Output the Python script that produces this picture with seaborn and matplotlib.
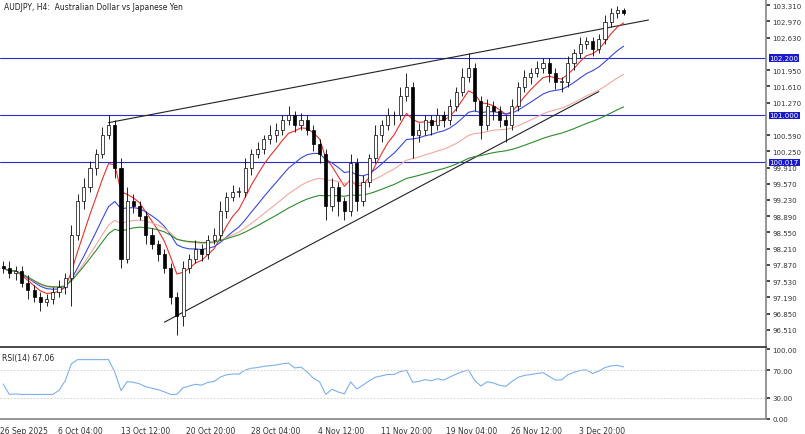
import numpy as np
import pandas as pd
import matplotlib
matplotlib.use("Agg")
import matplotlib.pyplot as plt
import seaborn as sns

sns.set_theme(style="white")
plt.rcParams['font.family'] = ['DejaVu Sans']

# H4 closes (one value per candle, resampled)
closes = [97.8, 97.7, 97.75, 97.5, 97.35, 97.2, 97.1, 97.15, 97.3, 97.4,
          97.6, 98.5, 99.2, 99.5, 99.9, 100.2, 100.6, 100.8, 99.9, 98.0,
          99.2, 99.1, 98.9, 98.5, 98.3, 98.1, 97.8, 97.2, 96.8, 97.8,
          98.0, 98.2, 98.1, 98.4, 98.5, 99.0, 99.3, 99.4, 99.4, 99.9,
          100.2, 100.3, 100.5, 100.6, 100.7, 100.9, 101.0, 100.8, 100.9, 100.7,
          100.4, 100.2, 99.1, 99.5, 99.2, 99.0, 100.0, 99.2, 99.6, 100.1,
          100.6, 100.8, 101.0, 101.0, 101.4, 101.6, 100.6, 100.7, 100.9, 100.8,
          101.0, 100.9, 101.2, 101.5, 101.8, 102.0, 101.3, 100.8, 101.2, 101.1,
          100.9, 100.8, 101.2, 101.6, 101.8, 101.9, 102.0, 102.1, 101.9, 101.7,
          101.7, 102.1, 102.3, 102.5, 102.55, 102.4, 102.6, 102.95, 103.15, 103.2,
          103.15]
upper_wick = [0.1, 0.15, 0.1, 0.1, 0.15, 0.1, 0.1, 0.1, 0.1, 0.15,
              0.1, 0.2, 0.15, 0.2, 0.15, 0.1, 0.15, 0.2, 0.1, 0.2,
              0.3, 0.15, 0.1, 0.1, 0.15, 0.1, 0.1, 0.1, 0.1, 0.15,
              0.1, 0.2, 0.1, 0.1, 0.15, 0.2, 0.1, 0.15, 0.1, 0.2,
              0.1, 0.15, 0.1, 0.2, 0.15, 0.1, 0.2, 0.1, 0.15, 0.1,
              0.1, 0.1, 0.1, 0.2, 0.1, 0.1, 0.2, 0.1, 0.15, 0.1,
              0.2, 0.1, 0.15, 0.1, 0.2, 0.3, 0.1, 0.15, 0.1, 0.1,
              0.15, 0.1, 0.15, 0.1, 0.2, 0.3, 0.1, 0.1, 0.15, 0.1,
              0.1, 0.1, 0.15, 0.1, 0.15, 0.1, 0.15, 0.1, 0.1, 0.1,
              0.1, 0.15, 0.1, 0.15, 0.1, 0.1, 0.1, 0.15, 0.1, 0.1,
              0.05]
lower_wick = [0.1, 0.1, 0.15, 0.1, 0.2, 0.1, 0.2, 0.1, 0.1, 0.1,
              0.15, 0.6, 0.1, 0.15, 0.1, 0.15, 0.1, 0.1, 0.2, 0.2,
              0.1, 0.15, 0.1, 0.2, 0.1, 0.15, 0.1, 0.15, 0.4, 0.2,
              0.1, 0.1, 0.15, 0.1, 0.1, 0.1, 0.15, 0.1, 0.1, 0.1,
              0.15, 0.1, 0.1, 0.1, 0.15, 0.1, 0.1, 0.15, 0.1, 0.1,
              0.15, 0.2, 0.3, 0.1, 0.3, 0.2, 0.1, 0.2, 0.1, 0.1,
              0.1, 0.15, 0.1, 0.2, 0.1, 0.1, 0.5, 0.15, 0.1, 0.2,
              0.1, 0.15, 0.1, 0.1, 0.1, 0.1, 0.2, 0.3, 0.1, 0.2,
              0.15, 0.35, 0.1, 0.1, 0.1, 0.15, 0.1, 0.1, 0.2, 0.15,
              0.2, 0.1, 0.15, 0.1, 0.1, 0.15, 0.1, 0.1, 0.1, 0.1,
              0.05]

price_ticks = [103.310, 102.970, 102.630, 101.950, 101.610, 101.270, 100.590, 100.250,
               99.910, 99.570, 99.230, 98.890, 98.550, 98.210, 97.870, 97.530,
               97.190, 96.850, 96.510]
levels = [102.200, 101.000, 100.017]
level_labels = ["102.200", "101.000", "100.017"]
date_labels = ["26 Sep 2025", "6 Oct 04:00", "13 Oct 12:00", "20 Oct 20:00", "28 Oct 04:00",
               "4 Nov 12:00", "11 Nov 20:00", "19 Nov 04:00", "26 Nov 12:00", "3 Dec 20:00"]
date_pos = [3.3, 12.5, 23, 33.5, 44, 54.5, 65, 75.5, 86, 96.5]
# trendlines: (index, price) end points
upper_trend = ([17, 104], [100.85, 103.0])
lower_trend = ([26, 96], [96.67, 101.5])

df = pd.DataFrame({"close": closes})
df["open"] = df["close"].shift(1).fillna(df["close"].iloc[0] + 0.05)
df["high"] = df[["open", "close"]].max(axis=1) + upper_wick
df["low"] = df[["open", "close"]].min(axis=1) - lower_wick
df["idx"] = np.arange(len(df))
ma_specs = [(6, "#e8302c"), (16, "#3b49d8"), (34, "#f2a7a0"), (70, "#2e8b2e")]
for span, _ in ma_specs:
    df[f"ma{span}"] = df["close"].ewm(span=span).mean()
delta = df["close"].diff().fillna(0)
gain = delta.clip(lower=0).ewm(alpha=1 / 10).mean()
loss = (-delta.clip(upper=0)).ewm(alpha=1 / 10).mean()
df["rsi"] = (100 - 100 / (1 + gain / (loss + 1e-6))).clip(35, 85)
df.loc[0, "rsi"] = 50

fig = plt.figure(figsize=(8.05, 4.35), dpi=100)
ax = fig.add_axes([0.0, 0.2, 0.952, 0.8])
ax2 = fig.add_axes([0.0, 0.035, 0.952, 0.16])
xlim = (-0.5, 123.0)

for span, col in ma_specs:
    sns.lineplot(data=df, x="idx", y=f"ma{span}", ax=ax, color=col, lw=0.8, zorder=2)
for _, r in df.iterrows():
    up = r["close"] >= r["open"]
    ax.vlines(r["idx"], r["low"], r["high"], color="black", lw=0.6, zorder=3)
    lo, hi = min(r["open"], r["close"]), max(r["open"], r["close"])
    ax.bar(r["idx"], max(hi - lo, 0.02), bottom=lo, width=0.5,
           color="white" if up else "black", edgecolor="black", lw=0.5, zorder=4)

for lv, lab in zip(levels, level_labels):
    ax.axhline(lv, color="#2b2bcc", lw=0.8, zorder=1)
    ax.text(1.004, lv, lab, transform=ax.get_yaxis_transform(), fontsize=5.0, color="white",
            va="center", ha="left", clip_on=False, zorder=10,
            bbox=dict(boxstyle="square,pad=0.12", fc="#1a1acc", ec="none"))
for tr in (upper_trend, lower_trend):
    ax.plot(tr[0], tr[1], color="#222222", lw=0.8, zorder=1)

ax.set_xlim(*xlim)
ax.set_ylim(96.15, 103.44)
ax.yaxis.tick_right()
ax.set_yticks(price_ticks)
ax.set_yticklabels([f"{t:.3f}" for t in price_ticks])
ax.tick_params(axis="y", labelsize=5.0, colors="#333333", length=3, direction="out", pad=1.5)
ax.set_xticks([])
ax.set_xlabel("")
ax.set_ylabel("")
for s in ["top", "left"]:
    ax.spines[s].set_visible(False)
ax.spines["right"].set_color("#888888")
ax.spines["bottom"].set_color("#333333")
ax.text(0.005, 0.99, "AUDJPY, H4:  Australian Dollar vs Japanese Yen", transform=ax.transAxes,
        fontsize=5.5, va="top", color="#222222")

sns.lineplot(data=df, x="idx", y="rsi", ax=ax2, color="#7fb0e8", lw=0.8)
for lv in (70, 30):
    ax2.axhline(lv, color="#cccccc", lw=0.6, ls=(0, (2, 2)))
ax2.set_xlim(*xlim)
ax2.set_ylim(0, 100)
ax2.yaxis.tick_right()
ax2.set_yticks([100, 70, 30, 0])
ax2.set_yticklabels(["100.00", "70.00", "30.00", "0.00"])
ax2.tick_params(axis="y", labelsize=5.0, colors="#333333", length=3, pad=1.5)
ax2.set_xticks(date_pos)
ax2.set_xticklabels(date_labels)
ax2.tick_params(axis="x", labelsize=5.5, colors="#333333", length=3, pad=2)
ax2.set_xlabel("")
ax2.set_ylabel("")
for s in ["top", "left"]:
    ax2.spines[s].set_visible(False)
ax2.spines["right"].set_color("#888888")
ax2.spines["bottom"].set_color("#888888")
ax2.text(0.003, 0.95, "RSI(14) 67.06", transform=ax2.transAxes, fontsize=5.5, va="top")

fig.savefig("out.png", dpi=100, facecolor="white")
